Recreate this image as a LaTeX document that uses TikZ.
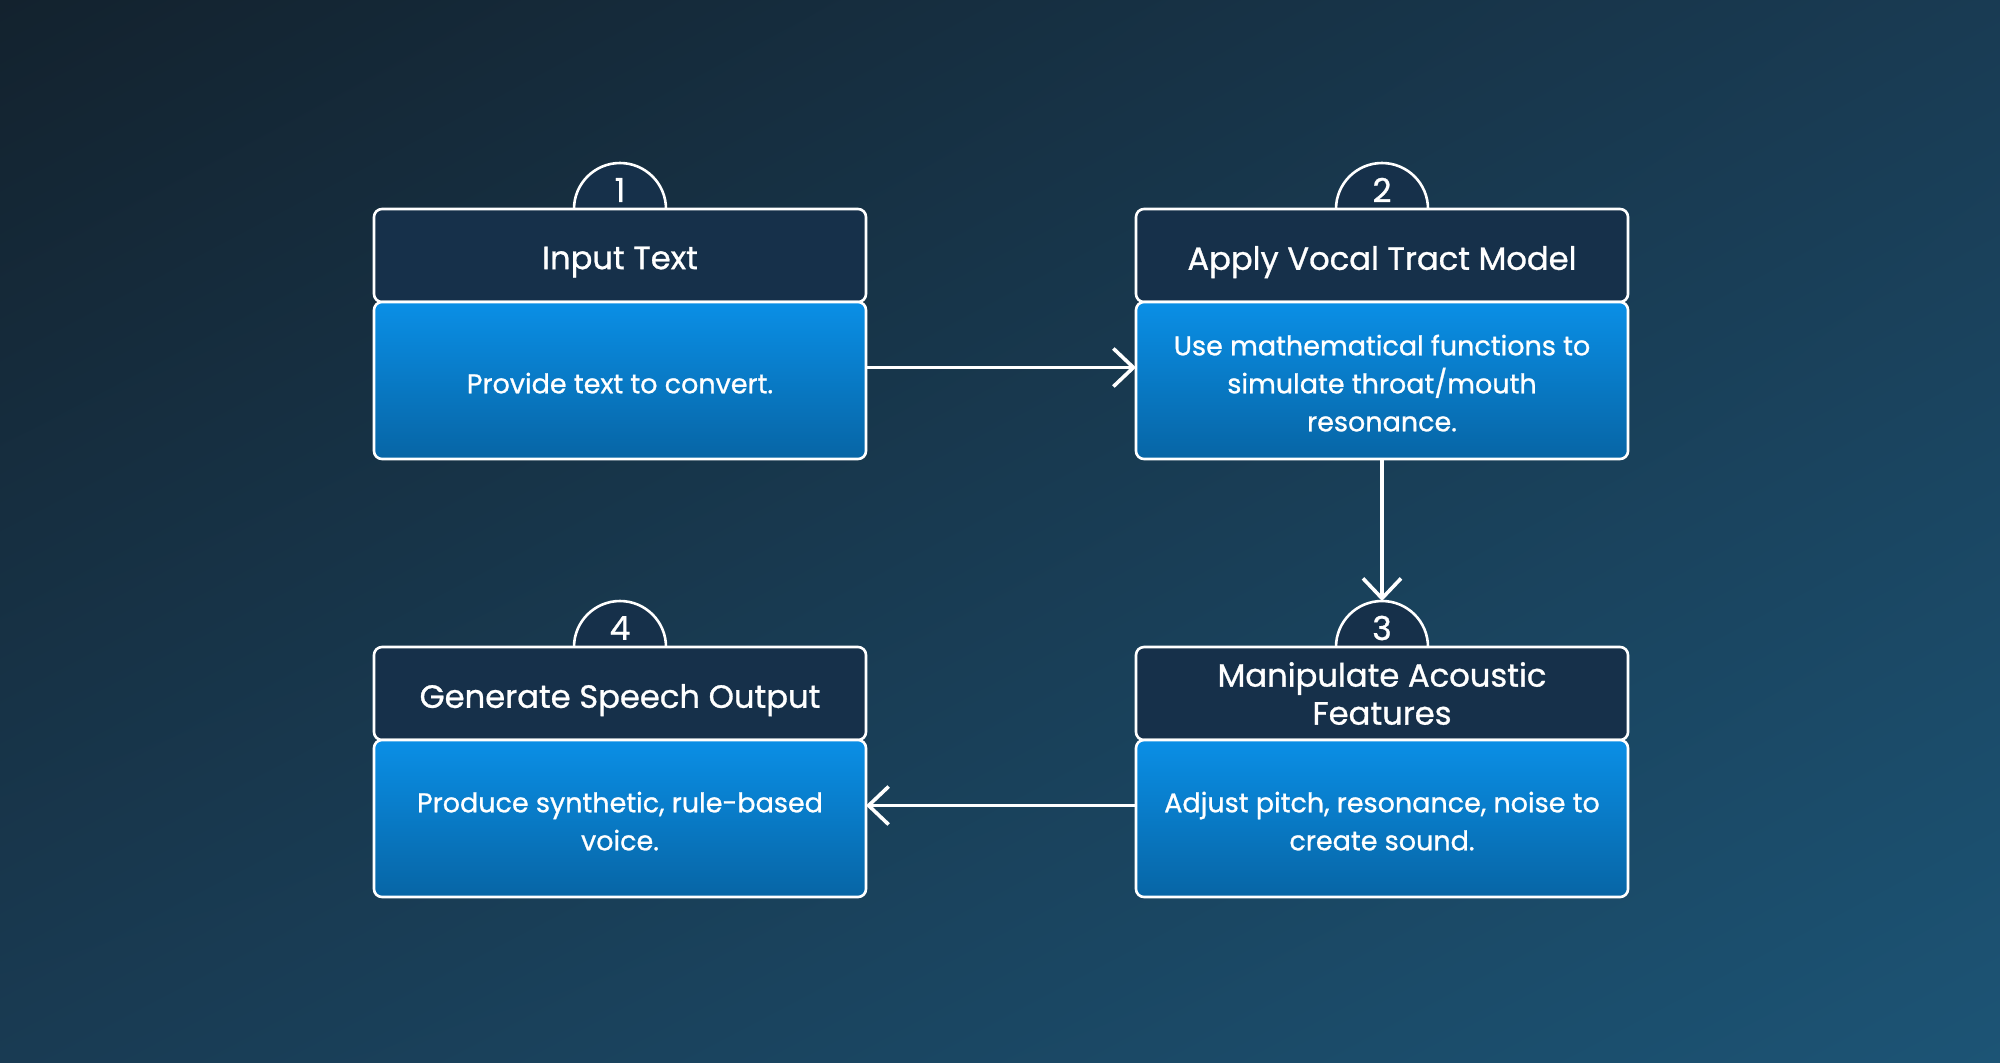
\documentclass[tikz,border=0pt]{standalone}
\usepackage{fontspec}
\setmainfont{Poppins}[FakeBold=0.9]
\usepackage{tikz}
\usetikzlibrary{positioning, arrows.meta, shadings}
\definecolor{bgdark}{HTML}{13222E}
\definecolor{bgmid}{HTML}{193B53}
\definecolor{bglight}{HTML}{1C5475}
\definecolor{headfill}{HTML}{16304A}
\definecolor{bodytop}{HTML}{0A8FE6}
\definecolor{bodybot}{HTML}{0765A5}
\tikzset{every node/.append style={text=white, outer sep=0pt}}
\tikzset{
    headbox/.style={draw=white, line width=1.3pt, fill=headfill, rounded corners=4pt,
        minimum width=246pt, minimum height=46.5pt, inner sep=0pt},
    bodybox/.style={draw=white, line width=1.3pt, top color=bodytop, bottom color=bodybot,
        rounded corners=4pt, minimum width=246pt, minimum height=78.5pt, inner sep=0pt},
    headtext/.style={align=center, inner sep=0pt, font=\fontsize{16.1}{19}\selectfont},
    bodytext/.style={align=center, inner sep=0pt, font=\fontsize{13.5}{19}\selectfont},
    numcirc/.style={circle, draw=white, line width=1.3pt, fill=headfill, minimum size=46pt, inner sep=0pt},
    flow/.style={draw=white, line width=1.8pt, -{Straight Barb[length=10pt, width=19pt]}}
}

\begin{document}
\begin{tikzpicture}[x=0.5pt, y=-0.5pt]
    \shade[upper left=bgdark, upper right=bgmid, lower left=bgmid, lower right=bglight]
        (0,0) rectangle (2000,1062);
    \useasboundingbox (0,0) rectangle (2000,1062);
    \foreach \i/\x/\y/\dy/\head/\body in {
        1/620/209/-3.3pt/{Input Text}/{Provide text to convert.},
        2/1382/209/-3.3pt/{Apply Vocal Tract Model}/{Use mathematical functions to\\simulate throat/mouth\\resonance.},
        3/1382/647/0pt/{Manipulate Acoustic\\Features}/{Adjust pitch, resonance, noise to\\create sound.},
        4/620/647/-3.3pt/{Generate Speech Output}/{Produce synthetic, rule-based\\voice.}} {
        \node[numcirc] (c\i) at (\x,\y) {};
        \node[font=\fontsize{16.5}{19}\selectfont] (num\i) at ([yshift=9.5pt]c\i.center) {\i};
        \node[headbox, anchor=north] (h\i) at (\x,\y) {};
        \node[bodybox, below=0pt of h\i] (b\i) {};
        \node[headtext] (ht\i) at ([yshift=\dy]h\i.center) {\head};
        \node[bodytext] (bt\i) at ([yshift=-1.3pt]b\i.center) {\body};
    }
    \draw[flow] ([yshift=6.5pt]b1.east) -- ([yshift=6.5pt]b2.west);
    \draw[flow] (b2.south) -- (c3.north);
    \draw[flow] ([yshift=6.5pt]b3.west) -- ([yshift=6.5pt]b4.east);
\end{tikzpicture}
\end{document}
